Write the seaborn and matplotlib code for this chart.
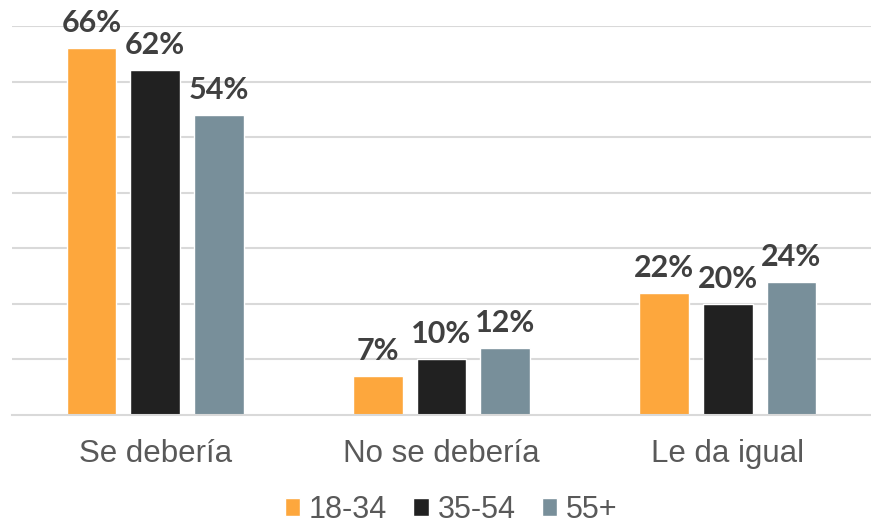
import pandas as pd
import matplotlib.pyplot as plt
import seaborn as sns

categories = ["Se debería", "No se debería", "Le da igual"]
groups = ["18-34", "35-54", "55+"]
v_18_34 = [66, 7, 22]
v_35_54 = [62, 10, 20]
v_55 = [54, 12, 24]
colors = ["#FDA73D", "#212121", "#788F9A"]

rows = []
for g, vals in zip(groups, [v_18_34, v_35_54, v_55]):
    for c, v in zip(categories, vals):
        rows.append({"categoria": c, "edad": g, "valor": v})
df = pd.DataFrame(rows)

sns.set_style("white")
plt.rcParams["font.family"] = ["Liberation Sans", "DejaVu Sans"]

fig = plt.figure(figsize=(8.71, 5.25), dpi=100)
ax = fig.add_axes([12 / 871, 1 - 415 / 525, 1 - 12 / 871, (415 - 26) / 525])

sns.barplot(data=df, x="categoria", y="valor", hue="edad", palette=colors,
            width=0.667, gap=0.22, ax=ax, saturation=1, legend=True)

for cont in ax.containers:
    ax.bar_label(cont, labels=[f"{int(v)}%" for v in cont.datavalues],
                 padding=8, fontsize=22, fontweight="bold", color="#404040",
                 family=["Lato", "DejaVu Sans"])

ax.set_ylim(0, 70)
ax.set_xlim(-0.5, 2.5)
ax.set_yticks(range(10, 71, 10))
ax.yaxis.grid(True, color="#D9D9D9", linewidth=1.5)
ax.set_axisbelow(True)
ax.tick_params(axis="y", left=False, labelleft=False)
ax.tick_params(axis="x", bottom=False, labelsize=22.5, labelcolor="#595959", pad=14)
ax.set_xlabel("")
ax.set_ylabel("")
for s in ["top", "left", "right"]:
    ax.spines[s].set_visible(False)
ax.spines["bottom"].set_color("#D9D9D9")
ax.spines["bottom"].set_linewidth(1.5)

handles, labels = ax.get_legend_handles_labels()
ax.legend(handles, labels, loc="center", bbox_to_anchor=(0.518, 15 / 525),
          bbox_transform=fig.transFigure, ncol=3, frameon=False,
          fontsize=22, labelcolor="#595959", handlelength=0.5, handleheight=0.5,
          handletextpad=0.3, columnspacing=0.85)

fig.savefig("out.png", dpi=100)
